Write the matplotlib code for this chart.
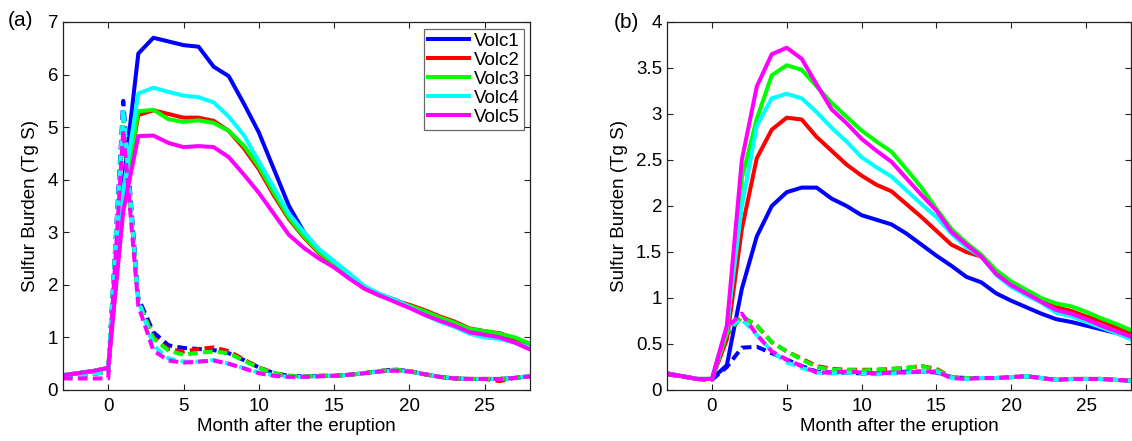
import matplotlib
matplotlib.use("Agg")
import matplotlib.pyplot as plt
import numpy as np

plt.rcParams['font.family'] = ['Liberation Sans', 'DejaVu Sans']

months = np.arange(-3, 29)
names = ['Volc1', 'Volc2', 'Volc3', 'Volc4', 'Volc5']
colors = ['#0000ff', '#ff0000', '#00ff00', '#00ffff', '#ff00ff']

# panel (a), solid lines
a_blue = [0.28, 0.32, 0.36, 0.42, 3.9, 6.4, 6.7, 6.63, 6.56, 6.53, 6.15, 5.97, 5.45, 4.9, 4.2, 3.5,
          3.0, 2.65, 2.4, 2.18, 1.95, 1.82, 1.72, 1.6, 1.47, 1.35, 1.25, 1.12, 1.08, 1.02, 0.95, 0.86]
a_red = [0.28, 0.32, 0.36, 0.42, 3.6, 5.23, 5.32, 5.25, 5.18, 5.18, 5.12, 4.93, 4.6, 4.2, 3.7, 3.25,
         2.9, 2.6, 2.38, 2.15, 1.93, 1.8, 1.7, 1.62, 1.52, 1.4, 1.3, 1.17, 1.12, 1.08, 0.98, 0.86]
a_green = [0.28, 0.32, 0.36, 0.42, 3.6, 5.3, 5.33, 5.15, 5.1, 5.13, 5.08, 4.93, 4.65, 4.25, 3.75, 3.28,
           2.92, 2.62, 2.4, 2.17, 1.95, 1.8, 1.7, 1.6, 1.5, 1.38, 1.28, 1.16, 1.12, 1.07, 1.0, 0.88]
a_cyan = [0.28, 0.32, 0.36, 0.42, 3.8, 5.64, 5.75, 5.67, 5.6, 5.57, 5.47, 5.2, 4.85, 4.35, 3.85, 3.35,
          3.0, 2.68, 2.45, 2.22, 1.98, 1.83, 1.72, 1.58, 1.43, 1.3, 1.2, 1.07, 1.0, 0.97, 0.9, 0.8]
a_magenta = [0.28, 0.32, 0.36, 0.42, 3.4, 4.83, 4.84, 4.7, 4.62, 4.64, 4.62, 4.43, 4.1, 3.75, 3.35, 2.95,
             2.7, 2.5, 2.33, 2.12, 1.93, 1.8, 1.68, 1.56, 1.43, 1.32, 1.22, 1.1, 1.05, 1.0, 0.9, 0.77]

# panel (a), dashed lines
ad_blue = [0.26, 0.28, 0.31, 0.34, 5.5, 1.75, 1.1, 0.85, 0.8, 0.78, 0.76, 0.7, 0.57, 0.43, 0.32, 0.27,
           0.26, 0.27, 0.27, 0.29, 0.32, 0.36, 0.39, 0.36, 0.3, 0.25, 0.22, 0.21, 0.21, 0.21, 0.23, 0.26]
ad_red = [0.26, 0.28, 0.31, 0.34, 5.2, 1.7, 1.0, 0.78, 0.73, 0.78, 0.81, 0.74, 0.58, 0.43, 0.32, 0.27,
          0.26, 0.27, 0.27, 0.29, 0.32, 0.36, 0.38, 0.36, 0.3, 0.25, 0.22, 0.21, 0.21, 0.17, 0.23, 0.26]
ad_green = [0.26, 0.28, 0.31, 0.34, 5.2, 1.7, 0.98, 0.75, 0.67, 0.71, 0.73, 0.7, 0.56, 0.42, 0.32, 0.27,
            0.26, 0.27, 0.27, 0.29, 0.32, 0.36, 0.39, 0.36, 0.3, 0.25, 0.22, 0.21, 0.21, 0.21, 0.23, 0.27]
ad_cyan = [0.26, 0.28, 0.31, 0.34, 5.35, 1.7, 0.85, 0.6, 0.54, 0.54, 0.57, 0.5, 0.42, 0.33, 0.28, 0.25,
           0.25, 0.26, 0.27, 0.29, 0.32, 0.35, 0.37, 0.35, 0.3, 0.25, 0.22, 0.21, 0.21, 0.21, 0.23, 0.27]
ad_magenta = [0.22, 0.22, 0.22, 0.22, 4.95, 1.6, 0.75, 0.56, 0.52, 0.54, 0.56, 0.5, 0.41, 0.32, 0.27, 0.25,
              0.25, 0.26, 0.27, 0.29, 0.32, 0.35, 0.37, 0.35, 0.3, 0.25, 0.22, 0.21, 0.21, 0.21, 0.23, 0.26]

# panel (b), solid lines
b_blue = [0.18, 0.15, 0.12, 0.12, 0.27, 1.1, 1.67, 2.0, 2.15, 2.2, 2.2, 2.08, 2.0, 1.9, 1.85, 1.8,
          1.7, 1.58, 1.46, 1.35, 1.23, 1.17, 1.05, 0.97, 0.9, 0.83, 0.77, 0.74, 0.7, 0.66, 0.62, 0.56]
b_red = [0.18, 0.15, 0.12, 0.12, 0.55, 1.75, 2.52, 2.83, 2.96, 2.94, 2.75, 2.6, 2.45, 2.33, 2.23, 2.16,
         2.02, 1.88, 1.73, 1.58, 1.5, 1.45, 1.27, 1.15, 1.07, 0.98, 0.9, 0.86, 0.8, 0.75, 0.68, 0.62]
b_green = [0.18, 0.15, 0.12, 0.12, 0.62, 2.3, 2.95, 3.42, 3.53, 3.48, 3.3, 3.12, 2.97, 2.82, 2.7, 2.59,
           2.4, 2.2, 1.97, 1.75, 1.6, 1.47, 1.3, 1.18, 1.09, 1.0, 0.94, 0.91, 0.85, 0.78, 0.72, 0.65]
b_cyan = [0.18, 0.15, 0.12, 0.12, 0.68, 2.0, 2.87, 3.17, 3.22, 3.17, 3.02, 2.85, 2.7, 2.53, 2.42, 2.32,
          2.17, 2.02, 1.88, 1.7, 1.55, 1.45, 1.25, 1.12, 1.03, 0.95, 0.84, 0.8, 0.74, 0.68, 0.62, 0.55]
b_magenta = [0.18, 0.15, 0.12, 0.12, 0.7, 2.5, 3.3, 3.65, 3.72, 3.6, 3.32, 3.05, 2.9, 2.73, 2.6, 2.48,
             2.3, 2.12, 1.95, 1.72, 1.58, 1.45, 1.26, 1.14, 1.05, 0.96, 0.87, 0.83, 0.77, 0.7, 0.64, 0.58]

# panel (b), dashed lines
bd_blue = [0.17, 0.15, 0.12, 0.11, 0.25, 0.46, 0.47, 0.4, 0.33, 0.26, 0.2, 0.19, 0.19, 0.18, 0.18, 0.19,
           0.2, 0.2, 0.19, 0.14, 0.13, 0.13, 0.13, 0.14, 0.15, 0.13, 0.11, 0.12, 0.12, 0.12, 0.11, 0.1]
bd_red = [0.17, 0.15, 0.12, 0.11, 0.6, 0.8, 0.7, 0.52, 0.42, 0.34, 0.26, 0.23, 0.22, 0.22, 0.22, 0.23,
          0.24, 0.26, 0.23, 0.14, 0.13, 0.13, 0.13, 0.14, 0.15, 0.13, 0.11, 0.12, 0.12, 0.12, 0.11, 0.1]
bd_green = [0.17, 0.15, 0.12, 0.11, 0.62, 0.8, 0.7, 0.52, 0.42, 0.33, 0.25, 0.22, 0.22, 0.21, 0.22, 0.23,
            0.24, 0.26, 0.22, 0.14, 0.13, 0.13, 0.13, 0.14, 0.15, 0.13, 0.11, 0.12, 0.12, 0.12, 0.11, 0.1]
bd_cyan = [0.17, 0.15, 0.12, 0.11, 0.68, 0.77, 0.6, 0.42, 0.3, 0.24, 0.19, 0.18, 0.19, 0.18, 0.17, 0.18,
           0.19, 0.2, 0.2, 0.13, 0.12, 0.13, 0.13, 0.14, 0.15, 0.13, 0.11, 0.12, 0.12, 0.12, 0.11, 0.1]
bd_magenta = [0.17, 0.15, 0.12, 0.11, 0.68, 0.83, 0.6, 0.42, 0.33, 0.26, 0.19, 0.19, 0.2, 0.19, 0.18, 0.19,
              0.19, 0.2, 0.2, 0.13, 0.12, 0.13, 0.13, 0.14, 0.15, 0.13, 0.11, 0.12, 0.12, 0.12, 0.11, 0.1]

a_solid = [a_blue, a_red, a_green, a_cyan, a_magenta]
a_dash = [ad_blue, ad_red, ad_green, ad_cyan, ad_magenta]
b_solid = [b_blue, b_red, b_green, b_cyan, b_magenta]
b_dash = [bd_blue, bd_red, bd_green, bd_cyan, bd_magenta]

W, H = 1132, 441
fig = plt.figure(figsize=(W / 100, H / 100), dpi=100)
ax_a = fig.add_axes([63 / W, 51 / H, 467 / W, 368 / H])
ax_b = fig.add_axes([667 / W, 51 / H, 464 / W, 368 / H])

fs = 13.5
lw = 2.9


def style(ax, ylim, yticks):
    ax.set_xlim(-3, 28)
    ax.set_ylim(*ylim)
    ax.set_xticks([0, 5, 10, 15, 20, 25])
    ax.set_yticks(yticks)
    ax.yaxis.set_major_formatter(plt.FormatStrFormatter('%g'))
    ax.tick_params(direction='in', top=True, right=True, length=4, width=0.8,
                   labelsize=fs, colors='#222222', labelcolor='black')
    ax.tick_params(axis='x', pad=6)
    for s in ax.spines.values():
        s.set_linewidth(0.9)
        s.set_color('#222222')
    ax.set_xlabel('Month after the eruption', fontsize=fs, labelpad=2)
    ax.set_ylabel('Sulfur Burden (Tg S)', fontsize=fs, labelpad=6)


for ax, solid, dash in [(ax_a, a_solid, a_dash), (ax_b, b_solid, b_dash)]:
    for name, c, s, d in zip(names, colors, solid, dash):
        ax.plot(months, s, color=c, lw=lw, label=name)
        ax.plot(months, d, color=c, lw=lw, dashes=(2.4, 1.3))

style(ax_a, (0, 7), np.arange(0, 8, 1))
style(ax_b, (0, 4), np.arange(0, 4.01, 0.5))

leg = ax_a.legend(loc='upper right', bbox_to_anchor=((524 - 63) / 467, (390 - 29) / 368),
                  borderaxespad=0, fontsize=fs, frameon=True, fancybox=False,
                  handlelength=2.2, handletextpad=0.3, labelspacing=0.1, borderpad=0.2)
leg.get_frame().set_edgecolor('#444444')
leg.get_frame().set_linewidth(0.9)

fig.text(8 / W, 1 - 20 / H, '(a)', fontsize=15, va='center', ha='left')
fig.text(614 / W, 1 - 22 / H, '(b)', fontsize=15, va='center', ha='left')

fig.savefig('out.png', dpi=100)
